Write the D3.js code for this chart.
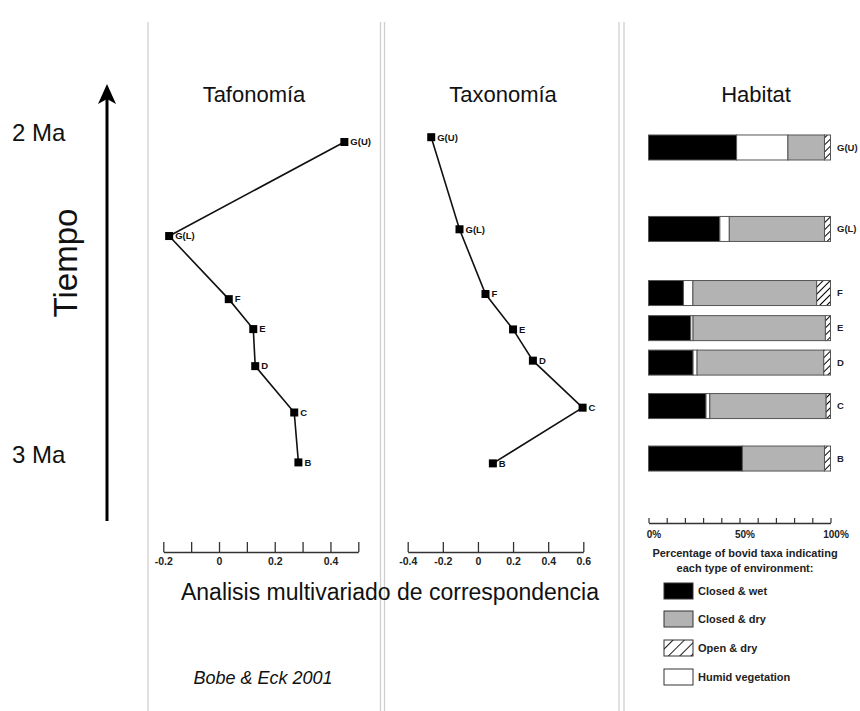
<!DOCTYPE html>
<html>
<head>
<meta charset="utf-8">
<script src="https://cdn.jsdelivr.net/npm/d3@7"></script>
<style>
  html, body { margin: 0; padding: 0; background: #fff; }
  svg { display: block; font-family: "Liberation Sans", Arial, sans-serif; }
</style>
</head>
<body>
<svg id="chart" width="860" height="711"></svg>
<script>
// ---------- DATA ----------
const units = ["G(U)", "G(L)", "F", "E", "D", "C", "B"];

// Tafonomía panel (correspondence analysis score, age in Ma)
const tafoAge   = [2.028, 2.320, 2.516, 2.609, 2.724, 2.868, 3.023];
const tafoScore = [0.45, -0.179, 0.035, 0.123, 0.13, 0.27, 0.285];
const tafoTicks = [-0.2, -0.1, 0, 0.1, 0.2, 0.3, 0.4, 0.5];
const tafoTickLabels = ["-0.2", "", "0", "", "0.2", "", "0.4", ""];

// Taxonomía panel
const taxoAge   = [2.013, 2.299, 2.500, 2.610, 2.707, 2.853, 3.026];
const taxoScore = [-0.266, -0.105, 0.043, 0.20, 0.313, 0.596, 0.085];
const taxoTicks = [-0.4, -0.2, 0, 0.2, 0.4, 0.6];
const taxoTickLabels = ["-0.4", "-0.2", "0", "0.2", "0.4", "0.6"];

// Habitat panel (% of bovid taxa)
const habAge     = [2.045, 2.298, 2.497, 2.606, 2.713, 2.848, 3.011];
const closedWet  = [48.4, 39.2, 19.2, 23.2, 24.5, 31.6, 51.6];
const humidVeg   = [28.2, 5.2, 5.2, 1.3, 2.2, 2.1, 0];
const closedDry  = [20.1, 52.3, 68.0, 72.7, 69.6, 63.9, 45.1];
const openDry    = [3.3, 3.3, 7.6, 2.8, 3.7, 2.4, 3.3];
const habTicks = [0, 10, 20, 30, 40, 50, 60, 70, 80, 90, 100];
const habTickLabels = ["0%", "", "", "", "", "50%", "", "", "", "", "100%"];

const timeTicks = [2, 3];
const timeTickLabels = ["2 Ma", "3 Ma"];

const legendLabels = ["Closed & wet", "Closed & dry", "Open & dry", "Humid vegetation"];

// ---------- DRAW ----------
const svg = d3.select("#chart");
const defs = svg.append("defs");

function hatchPattern(id, size, sw) {
  const p = defs.append("pattern")
    .attr("id", id).attr("patternUnits", "userSpaceOnUse")
    .attr("width", size).attr("height", size)
    .attr("patternTransform", "rotate(45)");
  p.append("rect").attr("width", size).attr("height", size).attr("fill", "#fff");
  p.append("line").attr("x1", 0).attr("y1", 0).attr("x2", 0).attr("y2", size)
    .attr("stroke", "#000").attr("stroke-width", sw);
}
hatchPattern("hatch", 5, 2);
hatchPattern("hatchL", 8, 1.8);

const fills = { wet: "#000", humid: "#fff", dry: "#b3b3b3", open: "url(#hatch)" };

// time scale (shared vertical)
const y = d3.scaleLinear().domain([2, 3]).range([133, 455]);

// separators
const sepX = [148, 380.5, 384.5, 619, 624];
svg.append("g").selectAll("line").data(sepX).join("line")
  .attr("x1", d => d).attr("x2", d => d).attr("y1", 22).attr("y2", 711)
  .attr("stroke", "#cfcfcf").attr("stroke-width", 1.3);

// time arrow
svg.append("line").attr("x1", 107).attr("x2", 107).attr("y1", 521).attr("y2", 96)
  .attr("stroke", "#000").attr("stroke-width", 3);
svg.append("path").attr("d", "M107,84 L98,104 L107,99 L116,104 Z").attr("fill", "#000");

svg.append("text").attr("transform", "translate(77,263) rotate(-90)")
  .attr("text-anchor", "middle").attr("font-size", 33).attr("fill", "#111")
  .text("Tiempo");

svg.append("g").selectAll("text").data(timeTicks).join("text")
  .attr("x", 12).attr("y", d => y(d)).attr("dy", "0.35em")
  .attr("font-size", 24).attr("fill", "#111")
  .text((d, i) => timeTickLabels[i]);

// titles
const titles = [["Tafonomía", 254], ["Taxonomía", 503], ["Habitat", 756]];
svg.append("g").selectAll("text").data(titles).join("text")
  .attr("x", d => d[1]).attr("y", 102).attr("text-anchor", "middle")
  .attr("font-size", 22).attr("fill", "#111")
  .text(d => d[0]);

// line panels
function linePanel(xScale, ages, scores, ticks, tickLabels) {
  const g = svg.append("g");
  const pts = units.map((u, i) => ({ u, x: xScale(scores[i]), y: y(ages[i]) }));
  g.append("path")
    .attr("d", d3.line().x(d => d.x).y(d => d.y)(pts))
    .attr("fill", "none").attr("stroke", "#111").attr("stroke-width", 1.6);
  g.selectAll("rect").data(pts).join("rect")
    .attr("x", d => d.x - 4).attr("y", d => d.y - 4)
    .attr("width", 8).attr("height", 8).attr("fill", "#000");
  g.selectAll("text").data(pts).join("text")
    .attr("x", d => d.x + 6).attr("y", d => d.y).attr("dy", "0.35em")
    .attr("font-size", 9.5).attr("font-weight", "bold").attr("fill", "#111")
    .text(d => d.u);

  const axis = d3.axisBottom(xScale).tickValues(ticks)
    .tickSize(-10).tickSizeOuter(0).tickPadding(6)
    .tickFormat((d, i) => tickLabels[i]);
  const ag = svg.append("g").attr("transform", "translate(0,552)").call(axis);
  ag.select(".domain").attr("stroke", "#333").attr("stroke-width", 1.3);
  ag.selectAll(".tick line").attr("stroke", "#333").attr("stroke-width", 1.3);
  ag.selectAll(".tick text").attr("font-size", 10.5).attr("font-weight", "bold")
    .attr("font-family", "Liberation Sans, Arial, sans-serif").attr("fill", "#222");
}

const tafoX = d3.scaleLinear().domain([-0.2, 0.5]).range([163.3, 358.3]);
linePanel(tafoX, tafoAge, tafoScore, tafoTicks, tafoTickLabels);

const taxoX = d3.scaleLinear().domain([-0.4, 0.6]).range([407.7, 583.3]);
linePanel(taxoX, taxoAge, taxoScore, taxoTicks, taxoTickLabels);

// habitat stacked bars
const habX = d3.scaleLinear().domain([0, 100]).range([648.5, 830.5]);
const keys = ["wet", "humid", "dry", "open"];
const rows = units.map((u, i) => ({ u, age: habAge[i], wet: closedWet[i], humid: humidVeg[i], dry: closedDry[i], open: openDry[i] }));
const stack = d3.stack().keys(keys)(rows);
const barH = 25;
const hg = svg.append("g");
stack.forEach(layer => {
  hg.append("g").selectAll("rect").data(layer).join("rect")
    .attr("x", d => habX(d[0]))
    .attr("y", d => y(d.data.age) - barH / 2)
    .attr("width", d => Math.max(0, habX(d[1]) - habX(d[0])))
    .attr("height", barH)
    .attr("fill", fills[layer.key])
    .attr("stroke", d => (d[1] - d[0]) > 0 ? "#555" : "none")
    .attr("stroke-width", 1);
});
hg.append("g").selectAll("text").data(rows).join("text")
  .attr("x", 837).attr("y", d => y(d.age)).attr("dy", "0.35em")
  .attr("font-size", 9.5).attr("font-weight", "bold").attr("fill", "#222")
  .text(d => d.u);

const habAxis = d3.axisBottom(habX).tickValues(habTicks)
  .tickSize(-5).tickSizeOuter(0).tickPadding(8)
  .tickFormat((d, i) => habTickLabels[i]);
const hag = svg.append("g").attr("transform", "translate(0,523)").call(habAxis);
hag.select(".domain").attr("stroke", "#333").attr("stroke-width", 1.3);
hag.selectAll(".tick line").attr("stroke", "#333").attr("stroke-width", 1.2);
hag.selectAll(".tick text").attr("dx", 5).attr("font-size", 10).attr("font-weight", "bold")
  .attr("font-family", "Liberation Sans, Arial, sans-serif").attr("fill", "#222");

// legend
const legHead = ["Percentage of bovid taxa indicating", "each type of environment:"];
svg.append("g").selectAll("text").data(legHead).join("text")
  .attr("x", 745).attr("y", (d, i) => 557 + i * 15).attr("text-anchor", "middle")
  .attr("font-size", 11).attr("font-weight", "bold").attr("fill", "#222")
  .text(d => d);

const legFills = ["#000", "#b3b3b3", "url(#hatchL)", "#fff"];
const legY = [591, 619, 648, 677];
const lg = svg.append("g");
lg.selectAll("rect").data(legendLabels).join("rect")
  .attr("x", 664).attr("y", (d, i) => legY[i] - 8).attr("width", 29).attr("height", 16)
  .attr("fill", (d, i) => legFills[i]).attr("stroke", "#333").attr("stroke-width", 1);
lg.selectAll("text").data(legendLabels).join("text")
  .attr("x", 698).attr("y", (d, i) => legY[i]).attr("dy", "0.35em")
  .attr("font-size", 11).attr("font-weight", "bold").attr("fill", "#222")
  .text(d => d);

// bottom texts
svg.append("text").attr("x", 390).attr("y", 600).attr("text-anchor", "middle")
  .attr("font-size", 23).attr("fill", "#111").text("Analisis multivariado de correspondencia");
svg.append("text").attr("x", 263).attr("y", 684).attr("text-anchor", "middle")
  .attr("font-size", 18).attr("font-style", "italic").attr("fill", "#111").text("Bobe & Eck 2001");
</script>
</body>
</html>
